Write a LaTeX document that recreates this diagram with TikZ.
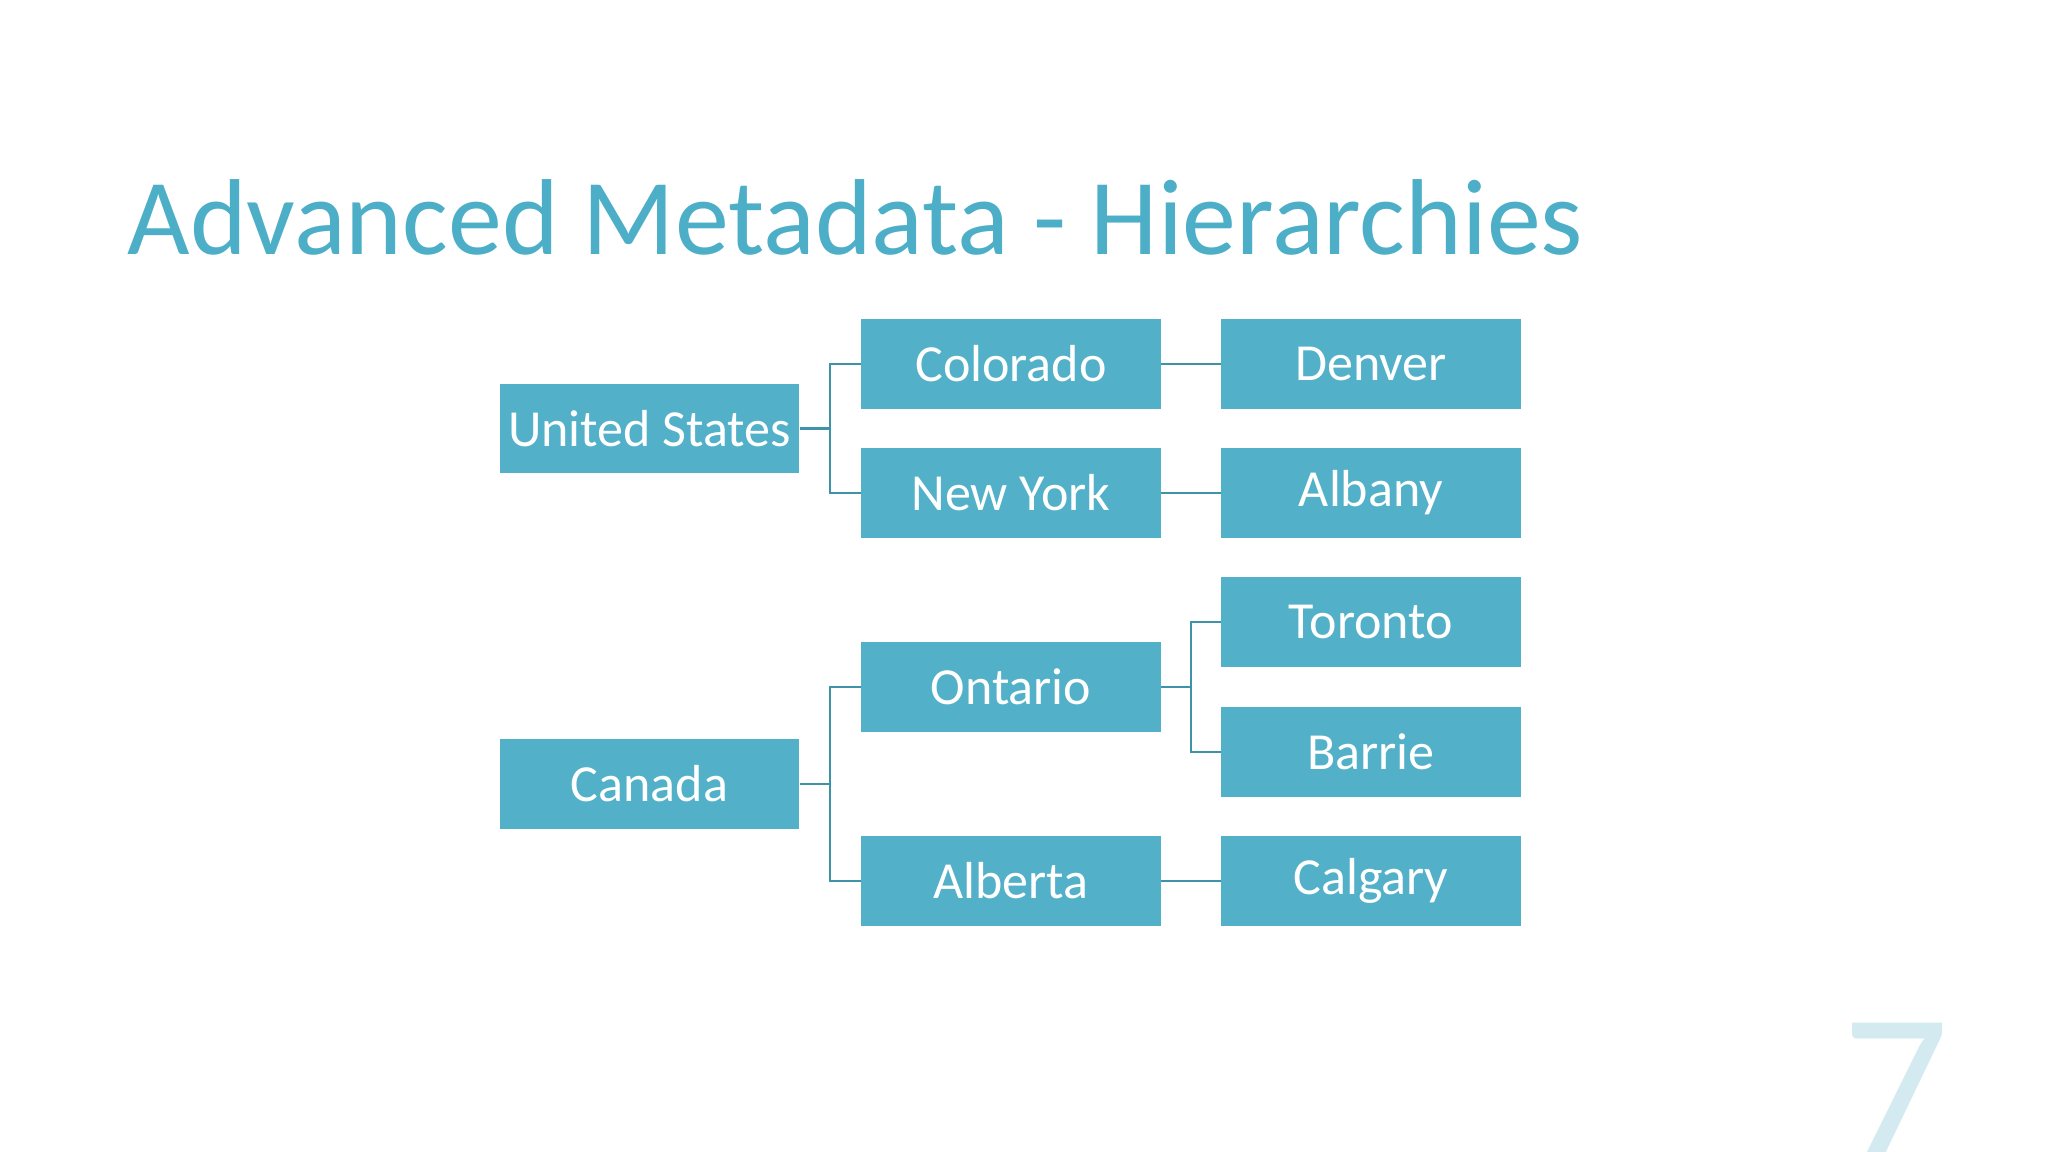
\documentclass[tikz,border=0pt]{standalone}
\usepackage{fontspec}
\setmainfont{Carlito}
\definecolor{BoxTeal}{HTML}{52B1C8}
\definecolor{LinkTeal}{HTML}{3F93A8}
\definecolor{TitleTeal}{HTML}{4DAFC7}
\definecolor{PageTint}{HTML}{D3EAF1}
\usetikzlibrary{positioning,calc}
\tikzset{
  place/.style={fill=BoxTeal,text=white,inner sep=0pt,
                minimum width=2.99cm,minimum height=0.89cm,
                font=\fontsize{14.8}{18}\selectfont},
  link/.style={draw=LinkTeal,line width=0.6pt}
}

\begin{document}
\begin{tikzpicture}[x=0.01cm,y=-0.01cm]
  \useasboundingbox[fill=white] (0,0) rectangle (2048,1152);
  % title and page number
  \node[anchor=base west,inner sep=0pt,text=TitleTeal,
        font=\fontsize{30.7}{36}\selectfont] (title) at (127,255)
        {Advanced Metadata - Hierarchies};
  \begin{scope}
    \clip (0,0) rectangle (2048,1152);
    \node[anchor=north west,inner sep=0pt,text=PageTint,
          font=\fontsize{60}{70}\selectfont] (page) at (1842,1022) {7};
  \end{scope}
  % countries
  \node[place] (us) at (649.5,428.5) {United States};
  \node[place] (ca) at (649.5,784) {Canada};
  % states and provinces
  \node[place] (co) at (1011,364) {Colorado};
  \node[place] (ny) at (1011,493) {New York};
  \node[place] (on) at (1011,687) {Ontario};
  \node[place] (ab) at (1011,881) {Alberta};
  % cities
  \node[place] (den) at (1371,364) {Denver};
  \node[place] (alb) at (1371,493) {Albany};
  \node[place] (tor) at (1371,622) {Toronto};
  \node[place] (bar) at (1371,752) {Barrie};
  \node[place] (cal) at (1371,881) {Calgary};
  % connectors
  \coordinate (usbus) at (830,428.5);
  \coordinate (cabus) at (830,784);
  \coordinate (onbus) at (1191,687);
  \draw[link] (us.east) -- (usbus) |- (co.west);
  \draw[link] (usbus) |- (ny.west);
  \draw[link] (ca.east) -- (cabus) |- (on.west);
  \draw[link] (cabus) |- (ab.west);
  \draw[link] (on.east) -- (onbus) |- (tor.west);
  \draw[link] (onbus) |- (bar.west);
  \draw[link] (co.east) -- (den.west);
  \draw[link] (ny.east) -- (alb.west);
  \draw[link] (ab.east) -- (cal.west);
\end{tikzpicture}
\end{document}
